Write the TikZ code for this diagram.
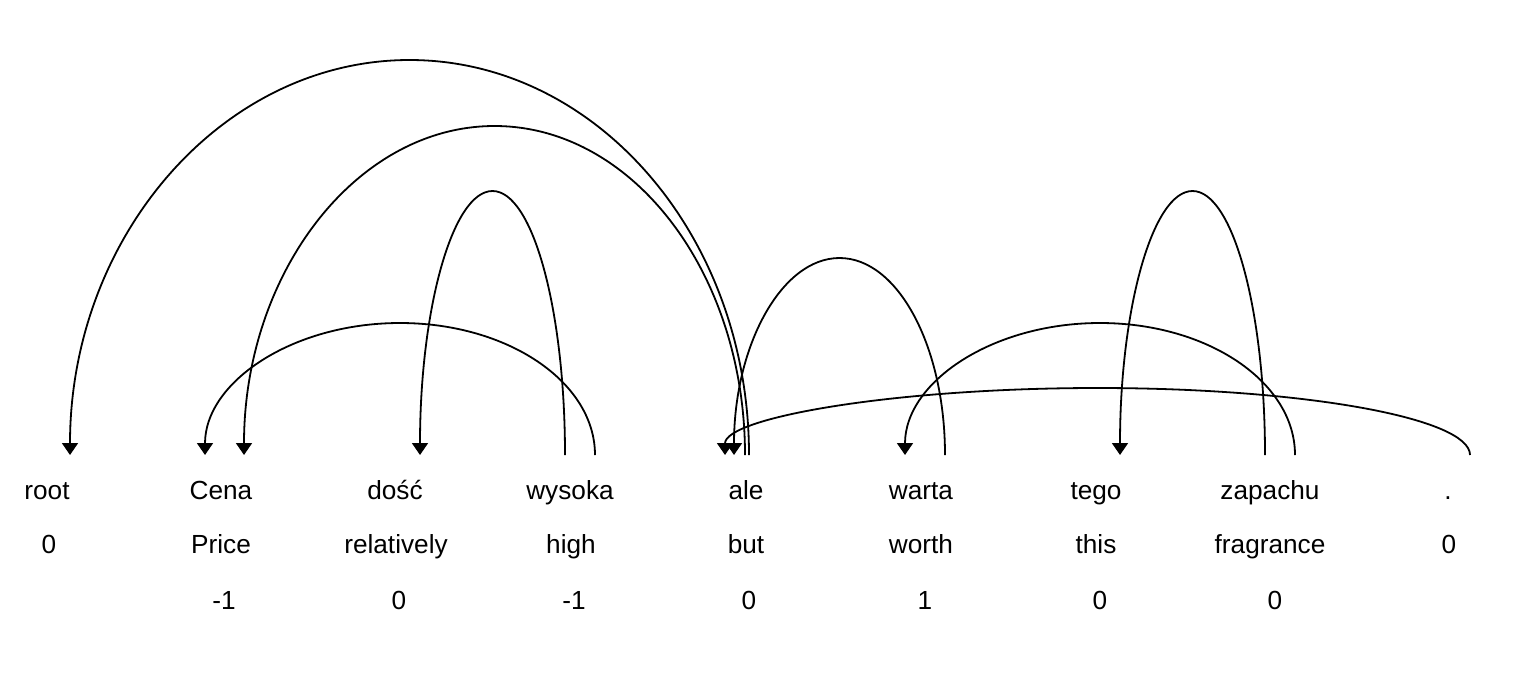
\documentclass[tikz,border=0pt]{standalone}
\usepackage{fontspec}
\setmainfont{Liberation Sans}
\usetikzlibrary{arrows.meta}
\begin{document}
\begin{tikzpicture}[x=0.5pt,y=-0.5pt,
  lbl/.style={anchor=base,inner sep=0pt,font=\fontsize{13.1}{15}\selectfont},
  dep/.style={line width=0.9pt,-{Triangle[width=8pt,length=6pt]}}]
\useasboundingbox (0,0) rectangle (1520,697);
% words
\node[lbl] (w0) at (47,499) {root};
\node[lbl] (w1) at (221,499) {Cena};
\node[lbl] (w2) at (395,499) {dość};
\node[lbl] (w3) at (570,499) {wysoka};
\node[lbl] (w4) at (746,499) {ale};
\node[lbl] (w5) at (921,499) {warta};
\node[lbl] (w6) at (1096,499) {tego};
\node[lbl] (w7) at (1270,499) {zapachu};
\node[lbl] (w8) at (1448,499) {.};
% glosses
\node[lbl] (g0) at (49,553) {0};
\node[lbl] (g1) at (221,553) {Price};
\node[lbl] (g2) at (396,553) {relatively};
\node[lbl] (g3) at (571,553) {high};
\node[lbl] (g4) at (746,553) {but};
\node[lbl] (g5) at (921,553) {worth};
\node[lbl] (g6) at (1096,553) {this};
\node[lbl] (g7) at (1270,553) {fragrance};
\node[lbl] (g8) at (1449,553) {0};
% scores
\node[lbl] (n1) at (224,609) {-1};
\node[lbl] (n2) at (399,609) {0};
\node[lbl] (n3) at (574,609) {-1};
\node[lbl] (n4) at (749,609) {0};
\node[lbl] (n5) at (925,609) {1};
\node[lbl] (n6) at (1100,609) {0};
\node[lbl] (n7) at (1275,609) {0};
% arc end points
\coordinate (s1) at (749,455); \coordinate (t1) at (70,455);
\coordinate (s2) at (745,455); \coordinate (t2) at (244,455);
\coordinate (s3) at (565,455); \coordinate (t3) at (420,455);
\coordinate (s4) at (595,455); \coordinate (t4) at (205,455);
\coordinate (s5) at (945,455); \coordinate (t5) at (734,455);
\coordinate (s6) at (1265,455); \coordinate (t6) at (1120,455);
\coordinate (s7) at (1295,455); \coordinate (t7) at (905,455);
\coordinate (s8) at (1470,455); \coordinate (t8) at (725,455);
% dependency arcs
\draw[dep] (s1) arc[start angle=0,end angle=180,x radius=169.75pt,y radius=197.5pt];
\draw[dep] (s2) arc[start angle=0,end angle=180,x radius=125.25pt,y radius=164.5pt];
\draw[dep] (s3) arc[start angle=0,end angle=180,x radius=36.25pt,y radius=132pt];
\draw[dep] (s4) arc[start angle=0,end angle=180,x radius=97.5pt,y radius=66pt];
\draw[dep] (s5) arc[start angle=0,end angle=180,x radius=52.75pt,y radius=98.5pt];
\draw[dep] (s6) arc[start angle=0,end angle=180,x radius=36.25pt,y radius=132pt];
\draw[dep] (s7) arc[start angle=0,end angle=180,x radius=97.5pt,y radius=66pt];
\draw[dep] (s8) arc[start angle=0,end angle=180,x radius=186.25pt,y radius=33.5pt];
\end{tikzpicture}
\end{document}
